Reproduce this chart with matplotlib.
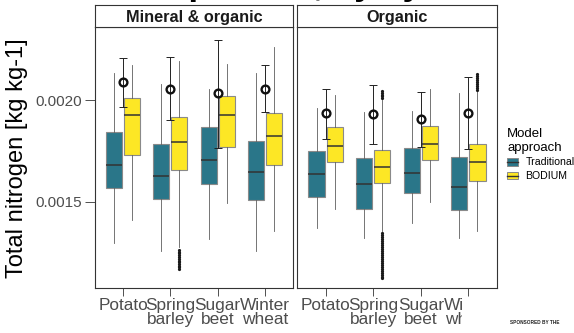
import numpy as np
import matplotlib
matplotlib.use("Agg")
import matplotlib.pyplot as plt
from matplotlib.patches import Rectangle
from matplotlib.lines import Line2D
from matplotlib.legend_handler import HandlerBase

plt.rcParams['font.family'] = ['Liberation Sans', 'DejaVu Sans']

crops = ["Potato", "Spring\nbarley", "Sugar\nbeet", "Winter\nwheat"]
systems = ["Mineral & organic", "Organic"]
approaches = ["Traditional", "BODIUM"]

# Five-number summaries per crop: lower whisker, Q1, median, Q3, upper whisker
trad_mineral = [
    [0.001298, 0.001569, 0.001680, 0.001844, 0.002131],
    [0.001259, 0.001513, 0.001628, 0.001784, 0.002077],
    [0.001317, 0.001587, 0.001705, 0.001866, 0.002053],
    [0.001258, 0.001508, 0.001646, 0.001800, 0.002134],
]
bodium_mineral = [
    [0.001410, 0.001730, 0.001926, 0.002008, 0.002172],
    [0.001277, 0.001654, 0.001794, 0.001918, 0.002192],
    [0.001492, 0.001767, 0.001925, 0.002021, 0.002177],
    [0.001357, 0.001682, 0.001823, 0.001938, 0.002259],
]
trad_organic = [
    [0.001369, 0.001522, 0.001635, 0.001751, 0.001959],
    [0.001323, 0.001463, 0.001586, 0.001713, 0.001940],
    [0.001394, 0.001541, 0.001643, 0.001766, 0.001947],
    [0.001323, 0.001459, 0.001571, 0.001721, 0.002033],
]
bodium_organic = [
    [0.001463, 0.001697, 0.001774, 0.001866, 0.002025],
    [0.001356, 0.001592, 0.001672, 0.001754, 0.001999],
    [0.001500, 0.001705, 0.001784, 0.001872, 0.002053],
    [0.001356, 0.001602, 0.001694, 0.001782, 0.002042],
]

# Outlying BODIUM values
fliers_mineral_barley = [0.001262, 0.001254, 0.001246, 0.001237, 0.001229, 0.001220,
                         0.001211, 0.001203, 0.001194, 0.001186, 0.001177, 0.001169]
fliers_organic_barley = [0.002045, 0.002036, 0.002027, 0.002018, 0.002009,
                         0.001345, 0.001336, 0.001327, 0.001316, 0.001306, 0.001297,
                         0.001287, 0.001277, 0.001267, 0.001258, 0.001248, 0.001238,
                         0.001229, 0.001219, 0.001209, 0.001199, 0.001189, 0.001180,
                         0.001170, 0.001160, 0.001150, 0.001141, 0.001132, 0.001126]
fliers_organic_wheat = [0.002127, 0.002118, 0.002108, 0.002098, 0.002088,
                        0.002078, 0.002069, 0.002059, 0.002050]

# Reference value and its interval per crop
ref_mean_mineral = [0.002087, 0.002056, 0.002033, 0.002056]
ref_low_mineral = [0.001967, 0.001902, 0.001763, 0.001940]
ref_high_mineral = [0.002208, 0.002213, 0.002295, 0.002174]
ref_mean_organic = [0.001935, 0.001931, 0.001905, 0.001938]
ref_low_organic = [0.001808, 0.001784, 0.001767, 0.001759]
ref_high_organic = [0.002054, 0.002074, 0.002039, 0.002115]

yticks = [0.0015, 0.0020]
ytick_labels = ["0.0015", "0.0020"]

TEAL = "#2a7689"
YELLOW = "#fde725"
BOX_EDGE = "#8a8a8a"
MEDIAN = "#333333"
WHISKER = "#5e5e5e"
FRAME = "#333333"
TICKTXT = "#4d4d4d"

W, H = 574, 333
fig = plt.figure(figsize=(W / 100, H / 100), dpi=100)


def px_rect(x0, y0, x1, y1):
    """Pixel box (origin top-left) to a figure-fraction rectangle."""
    return [x0 / W, 1 - y1 / H, (x1 - x0) / W, (y1 - y0) / H]


def to_stats(rows, fliers_by_crop):
    out = []
    for i, r in enumerate(rows):
        out.append(dict(whislo=r[0], q1=r[1], med=r[2], q3=r[3], whishi=r[4],
                        fliers=fliers_by_crop.get(i, [])))
    return out


panels = [
    dict(rect=(95, 27, 293, 288), name=systems[0], trad=trad_mineral, bod=bodium_mineral,
         bod_fliers={1: fliers_mineral_barley},
         mean=ref_mean_mineral, lo=ref_low_mineral, hi=ref_high_mineral),
    dict(rect=(297, 27, 497, 288), name=systems[1], trad=trad_organic, bod=bodium_organic,
         bod_fliers={1: fliers_organic_barley, 3: fliers_organic_wheat},
         mean=ref_mean_organic, lo=ref_low_organic, hi=ref_high_organic),
]

pos = np.arange(1, len(crops) + 1)
dodge, box_w = 0.19, 0.34
flier_style = dict(marker='o', markersize=2.3, markerfacecolor='#1a1a1a',
                   markeredgecolor='none', linestyle='none')

for k, p in enumerate(panels):
    x0, y0, x1, y1 = p["rect"]
    ax = fig.add_axes(px_rect(x0, y0, x1, y1))
    for fill, rows, fl, off in [(TEAL, p["trad"], {}, -dodge), (YELLOW, p["bod"], p["bod_fliers"], dodge)]:
        ax.bxp(to_stats(rows, fl), positions=pos + off, widths=box_w, patch_artist=True,
               showcaps=False, manage_ticks=False,
               boxprops=dict(facecolor=fill, edgecolor=BOX_EDGE, linewidth=0.8),
               medianprops=dict(color=MEDIAN, linewidth=1.3, alpha=0.85),
               whiskerprops=dict(color=WHISKER, linewidth=0.6),
               flierprops=flier_style, zorder=2)
    mean = np.array(p["mean"])
    yerr = [mean - np.array(p["lo"]), np.array(p["hi"]) - mean]
    ax.errorbar(pos, mean, yerr=yerr, fmt='none', ecolor='#222222', elinewidth=0.7,
                capsize=3.2, capthick=0.7, zorder=4)
    ax.plot(pos, mean, linestyle='none', marker='o', markersize=5.6, markerfacecolor='none',
            markeredgecolor='#111111', markeredgewidth=1.7, zorder=5)

    ax.set_xlim(0.4, 4.6)
    ax.set_ylim(0.001076, 0.002359)
    ax.set_xticks(pos)
    ax.set_xticklabels(crops, fontsize=12.4, color=TICKTXT, linespacing=0.92)
    ax.tick_params(axis='x', length=6, width=0.6, color=FRAME, pad=1.5)
    if k == 0:
        ax.set_yticks(yticks)
        ax.set_yticklabels(ytick_labels, fontsize=11, color=TICKTXT)
        ax.tick_params(axis='y', length=7, width=0.6, color=FRAME, pad=2)
    else:
        ax.set_yticks([])
    for s in ax.spines.values():
        s.set_color(FRAME)
        s.set_linewidth(0.8)

    # facet strip
    sax = fig.add_axes(px_rect(x0, 5, x1, y0))
    sax.set_xticks([])
    sax.set_yticks([])
    for s in sax.spines.values():
        s.set_color(FRAME)
        s.set_linewidth(0.8)
    sax.text(0.5, 0.45, p["name"], ha='center', va='center', fontsize=11.7,
             fontweight='bold', color='#1a1a1a', transform=sax.transAxes)

fig.text(17 / W, 1 - 158 / H, "Total nitrogen [kg kg-1]", rotation=90, ha='center',
         va='center', fontsize=17, color='black')

# plot title, running above the top edge of the canvas
fig.text(7 / W, 1 + 4.5 / H, "Model comparison, by system", ha='left', va='baseline',
         fontsize=25, fontweight='bold', color='black')


class BoxKey(HandlerBase):
    def create_artists(self, legend, orig_handle, xdescent, ydescent, width, height,
                       fontsize, trans):
        box = Rectangle((-xdescent, -ydescent), width, height,
                        facecolor=orig_handle.get_facecolor(), edgecolor=BOX_EDGE,
                        linewidth=0.7, transform=trans)
        mid = Line2D([-xdescent, -xdescent + width], [-ydescent + height / 2] * 2,
                     color=MEDIAN, linewidth=1.0, transform=trans)
        return [box, mid]


handles = [Rectangle((0, 0), 1, 1, facecolor=TEAL), Rectangle((0, 0), 1, 1, facecolor=YELLOW)]
leg = fig.legend(handles, approaches, handler_map={Rectangle: BoxKey()},
                 loc='upper left', bbox_to_anchor=(507 / W, 1 - 128 / H), frameon=False,
                 title="Model\napproach", title_fontsize=9.5, fontsize=7.6,
                 handlelength=1.0, handleheight=0.75, handletextpad=0.75,
                 labelspacing=0.35, borderpad=0, borderaxespad=0)
leg._legend_box.align = "left"

# white overlay in the lower right corner
fig.patches.append(Rectangle((462 / W, 0), 1 - 462 / W, 1 - 299 / H, transform=fig.transFigure,
                             facecolor='white', edgecolor='none', zorder=10))
fig.text(510 / W, 1 - 323 / H, "SPONSORED BY THE", fontsize=3.4, fontweight='bold',
         va='center', ha='left', color='#222222', zorder=11)

fig.savefig("out.png", dpi=100)
